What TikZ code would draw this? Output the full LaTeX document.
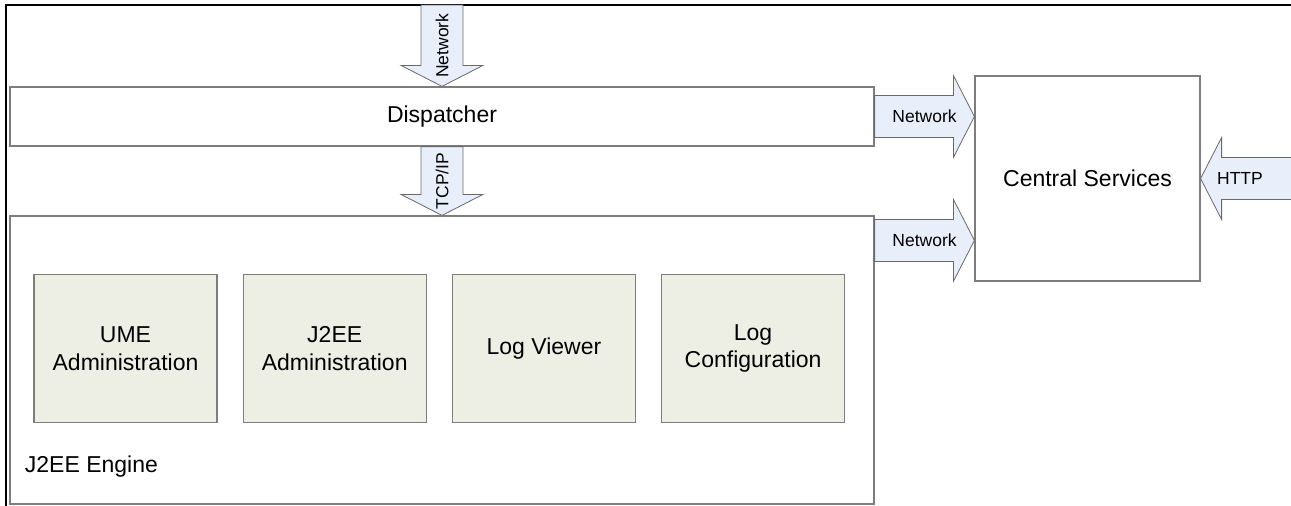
\documentclass[tikz,border=0pt]{standalone}
\usepackage{fontspec}
\setmainfont{Liberation Sans}
\definecolor{boxline}{RGB}{125,125,125}
\definecolor{appfill}{RGB}{238,239,228}
\definecolor{pipefill}{RGB}{232,238,250}
\definecolor{pipeline}{RGB}{105,105,105}
\usetikzlibrary{positioning,calc}

% block arrow sizes
\newcommand{\ashaft}{21pt}
\newcommand{\ahead}{41pt}
\newcommand{\alen}{21pt}

\tikzset{
  layerbox/.style={draw=boxline,line width=1.2pt,inner sep=0pt},
  appbox/.style={layerbox,fill=appfill,minimum width=183pt,minimum height=148pt,
    align=center,font=\fontsize{23}{27.6}\selectfont},
  bigtext/.style={font=\fontsize{23}{27.6}\selectfont},
  pipelabel/.style={inner sep=0pt,font=\fontsize{17.5}{20}\selectfont},
  pipe/.style={draw=pipeline,line width=0.8pt,fill=pipefill,line join=miter,
    to path={
      ($(\tikztostart)!\ashaft!90:(\tikztotarget)$)
      -- ($(\tikztotarget)!\alen!(\tikztostart)!\ashaft!-90:(\tikztostart)$)
      -- ($(\tikztotarget)!\alen!(\tikztostart)!\ahead!-90:(\tikztostart)$)
      -- (\tikztotarget)
      -- ($(\tikztotarget)!\alen!(\tikztostart)!\ahead!90:(\tikztostart)$)
      -- ($(\tikztotarget)!\alen!(\tikztostart)!\ashaft!90:(\tikztostart)$)
      -- ($(\tikztostart)!\ashaft!-90:(\tikztotarget)$) -- cycle}}
}

\begin{document}
\begin{tikzpicture}[x=1pt,y=-1pt]
  \useasboundingbox (0,0) rectangle (1291,506);

  % outer frame
  \draw[line width=1.5pt] (6,506) -- (6,5) -- (1295,5);

  % layers
  \node[layerbox,minimum width=864pt,minimum height=59pt,bigtext] (disp) at (442,116.5) {Dispatcher};
  \node[layerbox,minimum width=864pt,minimum height=288pt] (engine) at (442,360) {};
  \node[layerbox,minimum width=225pt,minimum height=205pt,bigtext] (cs) at (1087.5,178.5) {Central Services};
  \node[bigtext,anchor=west] (enginelbl) at ($(engine.south west)+(12,-38)$) {J2EE Engine};

  % applications
  \node[appbox] (ume) at (125.5,348.5) {UME\\Administration};
  \node[appbox,right=25pt of ume] (j2ee) {J2EE\\Administration};
  \node[appbox,right=25pt of j2ee] (logview) {Log Viewer};
  \node[appbox,right=25pt of logview] (logconf) {Log\\Configuration};

  % connections
  \coordinate (netin) at (442,5);
  \coordinate (httpin) at (1295,178.5);
  \coordinate (engout) at ($(engine.north east)+(0,25)$);
  \coordinate (csin1) at (cs.west |- disp.east);
  \coordinate (csin2) at (cs.west |- engout);

  \draw[pipe] (netin) to (disp.north);
  \draw[pipe] (disp.south) to (engine.north);
  \draw[pipe] (disp.east) to (csin1);
  \draw[pipe] (engout) to (csin2);
  \draw[pipe] (httpin) to (cs.east);

  \node[pipelabel,rotate=90] (netlbl) at ($(netin)!0.5!(disp.north)$) {Network};
  \node[pipelabel,rotate=90] (tcplbl) at ($(disp.south)!0.5!(engine.north)$) {TCP/IP};
  \node[pipelabel] (netlbl1) at ($(disp.east)!0.5!(csin1)$) {Network};
  \node[pipelabel] (netlbl2) at ($(engout)!0.5!(csin2)$) {Network};
  \node[pipelabel] (httplbl) at (1240,178.5) {HTTP};
\end{tikzpicture}
\end{document}
